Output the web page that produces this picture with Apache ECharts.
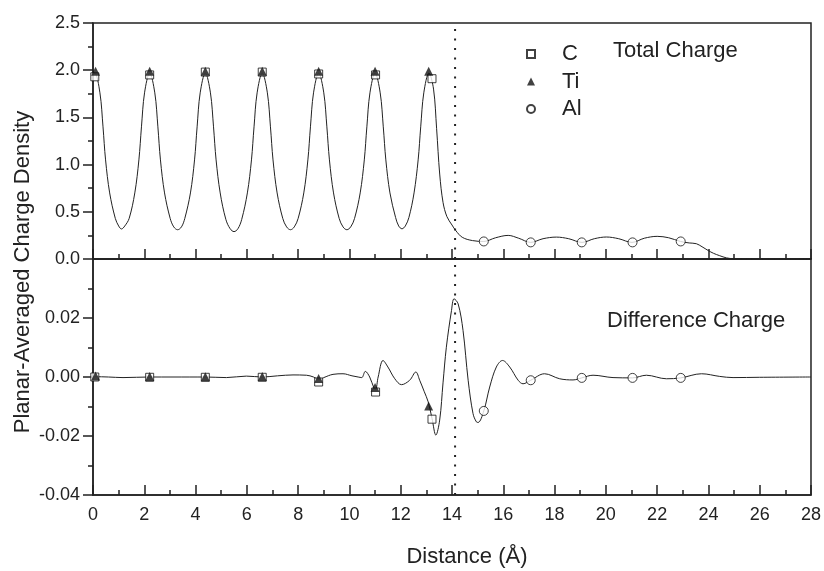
<!DOCTYPE html>
<html>
<head>
<meta charset="utf-8">
<script src="https://cdn.jsdelivr.net/npm/echarts@6/dist/echarts.min.js"></script>
<style>html,body{margin:0;padding:0;background:#fff;}#c{width:824px;height:571px;}</style>
</head>
<body>
<div id="c"></div>
<script>
// ---- data ----
const xTicks = [0, 28, 2];           // min, max, interval of Distance axis
const totalTicks = [0, 2.5, 0.5];
const diffTicks = [-0.04, 0.04, 0.02];
const interfaceX = 14.12;

const totalX = [0,0.07,0.27,0.39,0.49,0.65,0.87,1.0,1.11,1.24,1.41,1.63,1.79,1.89,2.01,
  2.21,2.41,2.53,2.63,2.79,3.01,3.15,3.3,3.45,3.58,3.80,3.96,4.06,4.18,
  4.38,4.58,4.70,4.80,4.96,5.18,5.35,5.5,5.65,5.8,6.02,6.18,6.28,6.4,
  6.6,6.8,6.92,7.02,7.18,7.4,7.55,7.7,7.85,8.0,8.22,8.38,8.48,8.6,
  8.8,9.0,9.12,9.22,9.38,9.6,9.75,9.9,10.05,10.2,10.42,10.58,10.68,10.8,
  11.0,11.2,11.32,11.42,11.58,11.8,11.92,12.05,12.18,12.32,12.52,12.68,12.78,12.9,
  13.1,13.28,13.4,13.52,13.65,13.8,14.0,14.15,14.4,14.8,15.24,15.7,16.19,16.6,17.07,
  17.55,18.07,18.55,19.07,19.55,20.02,20.5,21.02,21.5,22.0,22.45,22.91,23.25,23.53,
  23.75,23.99,24.2,24.44,24.7,24.96,25.3,28];
const totalY = [1.95,1.97,1.76,1.40,1.05,0.70,0.43,0.35,0.318,0.35,0.43,0.70,1.05,1.40,1.76,
  1.97,1.76,1.40,1.05,0.70,0.43,0.34,0.31,0.34,0.43,0.70,1.05,1.40,1.76,
  1.97,1.76,1.40,1.05,0.70,0.42,0.32,0.29,0.32,0.42,0.70,1.05,1.40,1.76,
  1.97,1.76,1.40,1.05,0.70,0.43,0.34,0.31,0.34,0.43,0.70,1.05,1.40,1.76,
  1.97,1.76,1.40,1.05,0.70,0.43,0.34,0.31,0.34,0.43,0.70,1.05,1.40,1.76,
  1.97,1.76,1.40,1.05,0.70,0.44,0.35,0.32,0.35,0.44,0.70,1.05,1.40,1.76,
  1.97,1.80,1.38,0.90,0.60,0.45,0.36,0.30,0.23,0.195,0.186,0.225,0.25,0.22,0.176,
  0.215,0.232,0.215,0.176,0.215,0.233,0.215,0.176,0.22,0.24,0.225,0.186,0.17,0.162,
  0.13,0.09,0.06,0.035,0.012,0.003,0,0];

const diffX = [0,0.07,0.6,1.17,2.21,3.12,4.38,5.2,5.98,6.6,7.2,7.8,8.32,8.6,8.81,9.0,9.36,9.75,
  10.1,10.34,10.48,10.62,10.79,10.95,11.02,11.12,11.31,11.5,11.77,12.03,12.35,12.59,12.74,
  12.92,13.07,13.22,13.37,13.52,13.65,13.78,13.98,14.08,14.24,14.43,14.63,14.82,14.95,15.02,
  15.24,15.47,15.73,15.97,16.25,16.58,16.77,17.07,17.61,18.2,18.72,19.06,19.5,20.28,21.04,
  21.58,22.36,22.92,23.73,24.44,24.96,26,28];
const diffY = [0,0.0001,0,-0.0002,0,0,0,-0.0002,0.0003,0,0.0004,0.0007,0.0006,0,-0.0009,-0.0002,0.0009,0.0011,
  0.0004,0,-0.0002,0.0019,0,-0.0036,-0.0042,0,0.0056,0.0034,-0.0006,-0.0026,-0.0011,0.0017,-0.0011,
  -0.0050,-0.0084,-0.0140,-0.0197,-0.0146,-0.0020,0.0101,0.0225,0.0265,0.0248,0.0158,-0.0011,-0.0124,-0.0152,-0.0154,
  -0.0115,-0.0034,0.0034,0.0056,0.0034,-0.0011,-0.0023,-0.0011,0.0011,-0.0006,-0.0010,-0.0003,0.0006,-0.0002,-0.0003,
  0.0006,-0.0006,-0.0003,0.0011,0.0002,-0.0002,-0.0001,0];

const cX = [0.07,2.21,4.38,6.6,8.8,11.02,13.22];
const cTotal = [1.93,1.95,1.98,1.98,1.96,1.95,1.91];
const cDiff = [0,-0.0001,-0.0001,-0.0001,-0.0017,-0.0051,-0.0143];
const tiX = [0.1,2.21,4.38,6.6,8.8,11.0,13.09];
const tiTotal = [1.99,1.99,1.99,1.99,1.99,1.99,1.99];
const tiDiff = [0.0003,0.0002,0.0001,0.0002,-0.0005,-0.0036,-0.0098];
const alX = [15.24,17.07,19.06,21.04,22.92];
const alTotal = [0.186,0.176,0.176,0.176,0.186];
const alDiff = [-0.0115,-0.0011,-0.0003,-0.0003,-0.0003];

const legendNames = ['C','Ti','Al'];
const panelTitles = ['Total Charge','Difference Charge'];
const yTitle = 'Planar-Averaged Charge Density';
const xTitle = 'Distance (Å)';

// ---- chart ----
const zip = (a,b) => a.map((v,i)=>[v,b[i]]);
const FONT = '"Liberation Sans", Arial, sans-serif';
const INK = '#222';
const chart = echarts.init(document.getElementById('c'), null, {renderer:'canvas'});

function xAxisOf(gi, showLabel){
  return {
    type:'value', gridIndex:gi, min:xTicks[0], max:xTicks[1], interval:xTicks[2],
    axisLine:{show:true, onZero:false, lineStyle:{color:INK,width:1.5}},
    axisTick:{show:true, inside:true, length:10, lineStyle:{color:INK,width:1.5}},
    minorTick:{show:true, splitNumber:2, length:5, lineStyle:{color:INK,width:1.5}},
    axisLabel:{show:showLabel, margin:11, color:INK, fontSize:18, fontFamily:FONT},
    splitLine:{show:false}
  };
}
function yAxisOf(gi, t, fmt){
  return {
    type:'value', gridIndex:gi, min:t[0], max:t[1], interval:t[2],
    axisLine:{show:true, onZero:false, lineStyle:{color:INK,width:1.5}},
    axisTick:{show:true, inside:false, length:10, lineStyle:{color:INK,width:1.5}},
    minorTick:{show:true, splitNumber:2, length:5, lineStyle:{color:INK,width:1.5}},
    axisLabel:{margin:13, color:INK, fontSize:18, fontFamily:FONT, formatter:fmt},
    splitLine:{show:false}
  };
}
const markerStyle = {
  C:{symbol:'rect', symbolSize:8, itemStyle:{color:'#fff', borderColor:'#111', borderWidth:1}},
  Ti:{symbol:'triangle', symbolSize:9, itemStyle:{color:'#111', borderColor:'#111', borderWidth:0}},
  Al:{symbol:'circle', symbolSize:9, itemStyle:{color:'#fff', borderColor:'#111', borderWidth:1}}
};
function scatter(name, xi, xs, ys){
  return Object.assign({type:'scatter', name:name, xAxisIndex:xi, yAxisIndex:xi,
    data:zip(xs,ys), z:5, animation:false}, markerStyle[name]);
}
function dotted(xi, t){
  return {type:'line', name:'interface', xAxisIndex:xi, yAxisIndex:xi, showSymbol:false, silent:true,
    data:[[interfaceX,t[0]],[interfaceX,t[1]]],
    lineStyle:{color:INK, width:2, type:[2,7.5]}, z:3, animation:false};
}

chart.setOption({
  backgroundColor:'#fff',
  animation:false,
  grid:[
    {left:93, right:13, top:23, height:236, show:true, borderColor:INK, borderWidth:1.5, backgroundColor:'transparent'},
    {left:93, right:13, top:259, height:236, show:true, borderColor:INK, borderWidth:1.5, backgroundColor:'transparent'}
  ],
  xAxis:[xAxisOf(0,false), xAxisOf(1,true)],
  yAxis:[
    yAxisOf(0,totalTicks, v=>v.toFixed(1)),
    yAxisOf(1,diffTicks, v=> v>0.03 ? '' : v.toFixed(2))
  ],
  legend:{
    orient:'vertical', left:521, top:38, itemWidth:8, itemHeight:8, itemGap:5.5,
    data:legendNames, selectedMode:false,
    textStyle:{fontSize:22, fontFamily:FONT, color:INK, padding:[0,0,0,22]}
  },
  series:[
    {type:'line', name:'total', xAxisIndex:0, yAxisIndex:0, data:zip(totalX,totalY), smooth:0.35,
      showSymbol:false, lineStyle:{color:INK,width:1}, z:2},
    {type:'line', name:'diff', xAxisIndex:1, yAxisIndex:1, data:zip(diffX,diffY), smooth:0.35,
      showSymbol:false, lineStyle:{color:INK,width:1}, z:2},
    dotted(0,totalTicks), dotted(1,diffTicks),
    scatter('C',0,cX,cTotal), scatter('Ti',0,tiX,tiTotal), scatter('Al',0,alX,alTotal),
    scatter('C',1,cX,cDiff), scatter('Ti',1,tiX,tiDiff), scatter('Al',1,alX,alDiff)
  ],
  graphic:[
    {type:'text', left:613, top:40, style:{text:panelTitles[0], font:'22px '+FONT, fill:INK}},
    {type:'text', left:607, top:310, style:{text:panelTitles[1], font:'22px '+FONT, fill:INK}},
    {type:'text', x:23, y:272, rotation:Math.PI/2,
      style:{text:yTitle, font:'22px '+FONT, fill:INK, align:'center', verticalAlign:'middle', textAlign:'center', textVerticalAlign:'middle'}},
    {type:'text', x:467, y:557,
      style:{text:xTitle, font:'22px '+FONT, fill:INK, align:'center', verticalAlign:'middle', textAlign:'center', textVerticalAlign:'middle'}}
  ]
});
</script>
</body>
</html>
